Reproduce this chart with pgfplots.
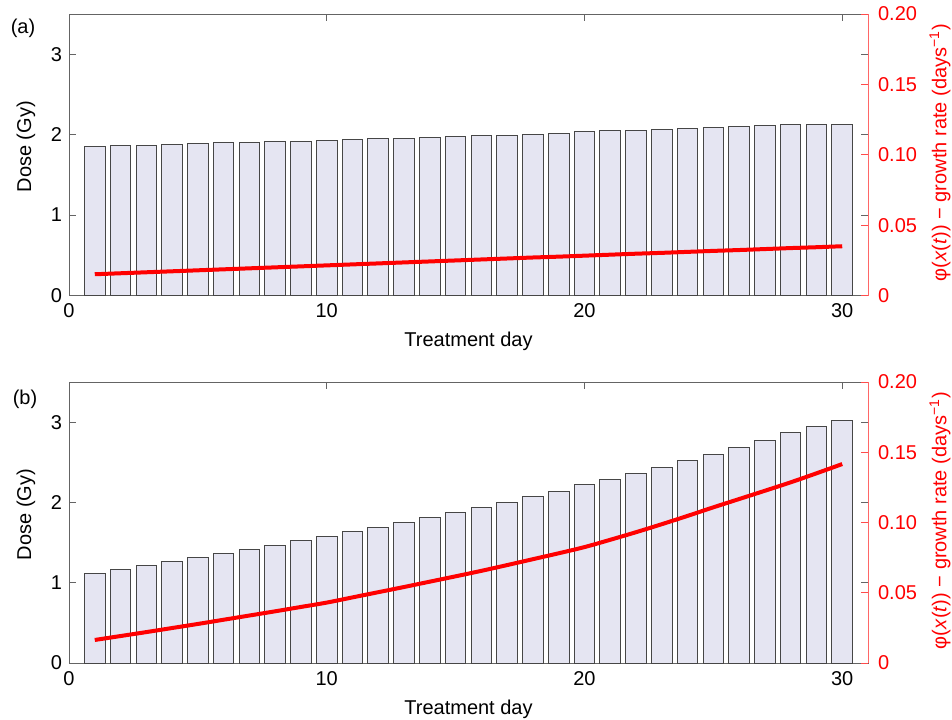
\documentclass[border=0pt]{standalone}
\usepackage{pgfplots}
\pgfplotsset{compat=1.18}
\usepackage{fontspec}
\setmainfont{Liberation Sans}
\definecolor{barfill}{RGB}{229,229,242}
\definecolor{barline}{RGB}{70,70,70}
\definecolor{axgray}{RGB}{100,100,100}
\begin{document}
\begin{tikzpicture}[x=1pt,y=1pt]
\useasboundingbox (0,0) rectangle (476,359.5);
\pgfplotsset{
  basestyle/.style={scale only axis, width=399.5pt, height=140.75pt, xmin=0, xmax=31,
    tick align=inside, major tick length=3.5pt,
    /pgf/number format/assume math mode=true,
    tick label style={font=\fontsize{10}{12}\selectfont},
    label style={font=\fontsize{10}{12}\selectfont},
  },
  dosestyle/.style={basestyle, ymin=0, ymax=3.5, ytick={0,1,2,3}, xtick={0,10,20,30},
    xtick pos=both, ytick pos=both,
    axis line style={axgray, line width=0.5pt}, tick style={axgray, line width=0.5pt},
    xticklabel style={yshift=-0.5pt},
    xlabel={Treatment day}, ylabel={Dose (Gy)},
    xlabel style={at={(axis description cs:0.5,0)}, anchor=center, yshift=-23pt},
    ylabel style={at={(axis description cs:0,0.5)}, anchor=center, yshift=21.5pt, xshift=4pt},
  },
  ratestyle/.style={basestyle, axis x line=none, axis y line*=right, ymin=0, ymax=0.2,
    ytick={0,0.05,0.10,0.15,0.20}, yticklabels={0,0.05,0.10,0.15,0.20},
    y axis line style={red!60, line width=0.5pt}, ytick style={red!70, line width=0.5pt},
    yticklabel style={red, xshift=1.5pt},
    ylabel={φ(\textit{x}(\textit{t})) − growth rate (days\textsuperscript{−1})},
    ylabel style={red, font=\fontsize{10}{12}\selectfont, at={(axis description cs:1,0.5)}, anchor=center, yshift=-36pt, xshift=1pt},
  },
}
% ---------------- panel (a) ----------------
\begin{axis}[dosestyle, at={(34.5pt,211.75pt)}, anchor=south west]
\addplot[ybar, bar width=0.8, fill=barfill, draw=barline, line width=0.5pt] coordinates {
(1,1.855) (2,1.862) (3,1.870) (4,1.878) (5,1.890) (6,1.897) (7,1.905) (8,1.913) (9,1.918) (10,1.925)
(11,1.935) (12,1.948) (13,1.958) (14,1.965) (15,1.975) (16,1.985) (17,1.993) (18,2.005) (19,2.020) (20,2.035)
(21,2.047) (22,2.056) (23,2.064) (24,2.076) (25,2.090) (26,2.100) (27,2.115) (28,2.125) (29,2.130) (30,2.130)
};
\end{axis}
\begin{axis}[ratestyle, at={(34.5pt,211.75pt)}, anchor=south west]
\addplot[red, line width=2pt] coordinates {
(1,0.0151) (2,0.0158) (3,0.0165) (4,0.0172) (5,0.0179) (6,0.0186) (7,0.0193) (8,0.0200) (9,0.0207) (10,0.0214)
(11,0.0221) (12,0.0228) (13,0.0235) (14,0.0242) (15,0.0249) (16,0.0256) (17,0.0263) (18,0.0270) (19,0.0276) (20,0.0283)
(21,0.0290) (22,0.0297) (23,0.0303) (24,0.0310) (25,0.0317) (26,0.0323) (27,0.0330) (28,0.0337) (29,0.0343) (30,0.0350)
};
\end{axis}
% ---------------- panel (b) ----------------
\begin{axis}[dosestyle, at={(34.5pt,28pt)}, anchor=south west, height=140.5pt]
\addplot[ybar, bar width=0.8, fill=barfill, draw=barline, line width=0.5pt] coordinates {
(1,1.12) (2,1.16) (3,1.21) (4,1.27) (5,1.32) (6,1.36) (7,1.41) (8,1.46) (9,1.52) (10,1.575)
(11,1.64) (12,1.69) (13,1.755) (14,1.81) (15,1.875) (16,1.94) (17,2.005) (18,2.075) (19,2.14) (20,2.22)
(21,2.29) (22,2.36) (23,2.43) (24,2.52) (25,2.60) (26,2.68) (27,2.775) (28,2.87) (29,2.95) (30,3.02)
};
\end{axis}
\begin{axis}[ratestyle, at={(34.5pt,28pt)}, anchor=south west, height=140.5pt]
\addplot[red, line width=2pt, smooth] coordinates {
(1,0.0164) (2,0.0192) (3,0.0220) (4,0.0249) (5,0.0278) (6,0.0308) (7,0.0338) (8,0.0368) (9,0.0399) (10,0.0430)
(11,0.0467) (12,0.0504) (13,0.0541) (14,0.0579) (15,0.0617) (16,0.0656) (17,0.0697) (18,0.0739) (19,0.0781) (20,0.0825)
(21,0.0877) (22,0.0931) (23,0.0988) (24,0.1047) (25,0.1108) (26,0.1167) (27,0.1226) (28,0.1286) (29,0.1350) (30,0.1416)
};
\end{axis}
\node[font=\fontsize{10}{12}\selectfont] at (11.5,345.5) {(a)};
\node[font=\fontsize{10}{12}\selectfont] at (12.5,160) {(b)};
\end{tikzpicture}
\end{document}
